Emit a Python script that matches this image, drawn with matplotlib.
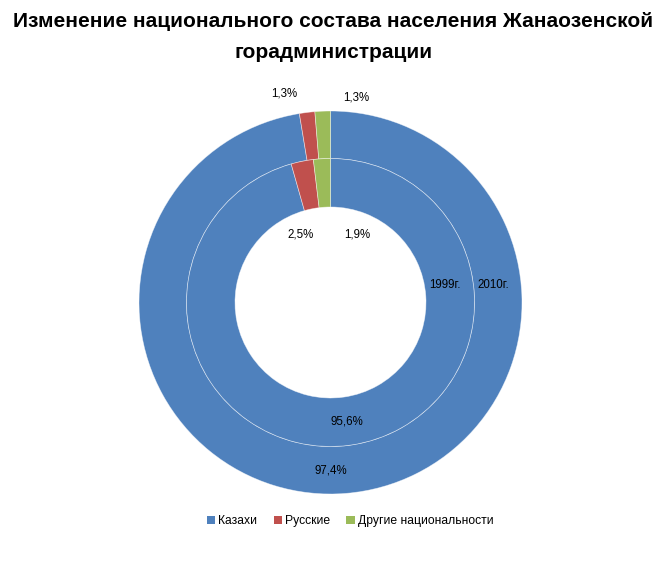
import numpy as np
import matplotlib.pyplot as plt
from matplotlib.patches import Patch

plt.rcParams['font.family'] = ['Liberation Sans', 'DejaVu Sans']

categories = ['Казахи', 'Русские', 'Другие национальности']
values_2010 = [97.4, 1.3, 1.3]
values_1999 = [95.6, 2.5, 1.9]
labels_2010 = ['97,4%', '1,3%', '1,3%']
labels_1999 = ['95,6%', '2,5%', '1,9%']
series_names = ['1999г.', '2010г.']
colors = ['#4F81BD', '#C0504D', '#9BBB59']

W, H = 667, 565
fig = plt.figure(figsize=(W / 100, H / 100), dpi=100)
ax = fig.add_axes([0, 0, 1, 1])

# geometry in pixels (y measured from the bottom)
cx, cy = 330.5, H - 302.5
r_out, r_mid, r_hole = 191.5, 144.0, 95.5

wp = dict(edgecolor=(1, 1, 1, 0.55), linewidth=0.5)
outer, _ = ax.pie(values_2010, colors=colors, startangle=90, counterclock=False,
                  radius=r_out, center=(cx, cy),
                  wedgeprops=dict(width=r_out - r_mid, **wp))
inner, _ = ax.pie(values_1999, colors=colors, startangle=90, counterclock=False,
                  radius=r_mid, center=(cx, cy),
                  wedgeprops=dict(width=r_mid - r_hole, **wp))

def put(wedge, text, r, dang=0.0):
    ang = np.deg2rad((wedge.theta1 + wedge.theta2) / 2 + dang)
    ax.text(cx + r * np.cos(ang), cy + r * np.sin(ang), text,
            ha='center', va='center', fontsize=8.3, color='black')

# 2010 (outer ring)
put(outer[0], labels_2010[0], (r_out + r_mid) / 2, -4.6)
put(outer[1], labels_2010[1], 214, 5.5)
put(outer[2], labels_2010[2], 207, -9.6)
# 1999 (inner ring)
put(inner[0], labels_1999[0], (r_mid + r_hole) / 2)
put(inner[1], labels_1999[1], 74, 12.7)
put(inner[2], labels_1999[2], 73, -24.5)

# series names
for name, r in zip(series_names, [(r_mid + r_hole) / 2, (r_out + r_mid) / 2]):
    ax.text(cx + r - 5, cy + 18, name, ha='center', va='center', fontsize=8.3)

ax.set_xlim(0, W)
ax.set_ylim(0, H)
ax.set_aspect('equal')
ax.axis('off')

fig.text(0.5, 1 - 37 / H, 'Изменение национального состава населения Жанаозенской\nгорадминистрации',
         ha='center', va='center', fontsize=15, fontweight='bold', linespacing=1.75)

handles = [Patch(facecolor=c, edgecolor='none') for c in colors]
fig.legend(handles, categories, loc='center', bbox_to_anchor=(0.525, 1 - 521 / H),
           ncol=3, frameon=False, fontsize=8.7, handlelength=0.7, handleheight=0.7,
           handletextpad=0.25, columnspacing=1.35)

fig.savefig('out.png', dpi=100)
